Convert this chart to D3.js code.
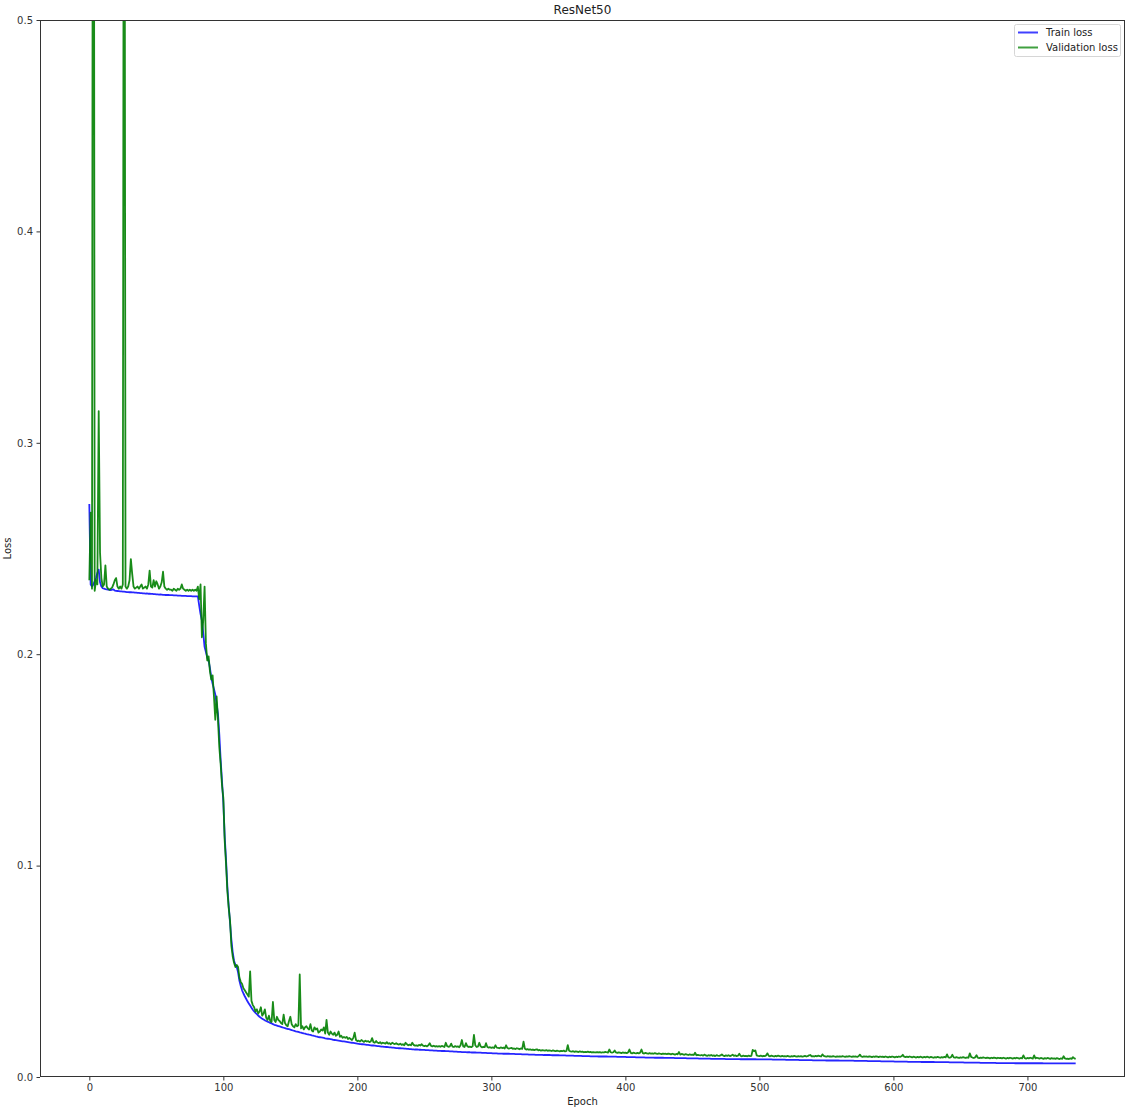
<!DOCTYPE html>
<html lang="en">
<head>
<meta charset="UTF-8">
<title>ResNet50</title>
<script src="https://d3js.org/d3.v7.min.js"></script>
<style>
    body { margin: 0; background: #fff; }
    text { font-family: "DejaVu Sans", sans-serif; }
</style>
</head>
<body>
<div id="chart"></div>
<script>
    // loss values per epoch, stored in units of 1e-4
    const trainLoss = [
        2710,2330,2320,2330,2345,2360,2385,2400,2340,2320,
        2312,2310,2308,2307,2305,2304,2303,2305,2306,2301,
        2300,2299,2298,2297,2297,2296,2296,2295,2294,2294,
        2293,2293,2292,2292,2291,2291,2290,2290,2289,2289,
        2288,2288,2287,2288,2286,2286,2285,2285,2284,2284,
        2283,2283,2282,2283,2282,2281,2281,2280,2280,2280,
        2279,2279,2279,2278,2278,2278,2277,2277,2277,2276,
        2276,2276,2276,2275,2275,2275,2275,2274,2274,2274,
        2274,2273,2230,2190,2160,2100,2035,2010,1985,1970,
        1935,1890,1860,1835,1810,1765,1718,1620,1500,1400,
        1300,1140,1030,900,810,730,650,590,550,530,
        520,495,455,430,410,395,382,370,358,348,
        338,328,318,310,303,297,291,285,280,276,
        272,268,265,262,259,256,253,250,247,245,
        243,241,239,237,235,233,231,229,227,226,
        224,222,220,218,216,215,213,211,210,208,
        206,205,203,202,200,199,197,196,194,192,
        191,189,188,187,186,185,183,182,181,180,
        179,178,176,175,174,173,172,171,170,169,
        168,167,166,165,164,163,162,161,160,159,
        158,157,156,155,155,154,153,152,152,151,
        150,149,149,148,147,146,146,145,144,144,
        143,142,142,141,140,140,139,139,138,137,
        137,136,136,135,135,134,134,133,133,132,
        132,131,131,130,130,130,129,129,128,128,
        128,127,127,127,126,126,126,125,125,125,
        124,124,124,123,123,123,122,122,122,121,
        121,121,120,120,120,119,119,119,118,118,
        118,118,117,117,117,116,116,116,116,115,
        115,115,115,114,114,114,114,113,113,113,
        113,112,112,112,112,111,111,111,111,110,
        110,110,110,110,109,109,109,109,108,108,
        108,108,108,107,107,107,107,107,106,106,
        106,106,106,105,105,105,105,105,105,104,
        104,104,104,104,104,103,103,103,103,103,
        103,102,102,102,102,102,101,101,101,101,
        101,101,100,100,100,100,100,100,99,99,
        99,99,99,99,98,98,98,98,98,98,
        97,97,97,97,97,97,97,96,96,96,
        96,96,96,96,95,95,95,95,95,95,
        95,94,94,94,94,94,94,94,93,93,
        93,93,93,93,93,92,92,92,92,92,
        92,92,91,91,91,91,91,91,91,90,
        90,90,90,90,90,90,90,89,89,89,
        89,89,89,89,89,89,88,88,88,88,
        88,88,88,88,88,87,87,87,87,87,
        87,87,87,87,86,86,86,86,86,86,
        86,86,86,86,86,85,85,85,85,85,
        85,85,85,85,85,85,84,84,84,84,
        84,84,84,84,84,84,84,84,83,83,
        83,83,83,83,83,83,83,83,83,83,
        82,82,82,82,82,82,82,82,82,82,
        81,81,81,81,81,81,81,81,81,81,
        80,80,80,80,80,80,80,80,80,80,
        79,79,79,79,79,79,79,79,79,79,
        78,78,78,78,78,78,78,78,78,78,
        77,77,77,77,77,77,77,77,77,77,
        77,76,76,76,76,76,76,76,76,76,
        76,75,75,75,75,75,75,75,75,75,
        75,74,74,74,74,74,74,74,74,74,
        74,73,73,73,73,73,73,73,73,73,
        73,72,72,72,72,72,72,72,72,72,
        72,71,71,71,71,71,71,71,71,71,
        71,70,70,70,70,70,70,70,70,70,
        70,70,69,69,69,69,69,69,69,69,
        69,69,69,68,68,68,68,68,68,68,
        68,68,68,68,68,67,67,67,67,67,
        67,67,67,67,67,67,67,66,66,66,
        66,66,66,66,66,66,66,66,66,66,
        66,65,65,65,65,65,65,65,65,65,
        65,65,65,65,65,65,65,65,65,65,
        65,65,64,64,64,64,64,64,64,64,
        64,64,64,64,64,64,64,64,64,64,
        64,64,64,64,64,64,64
    ];

    const valLoss = [
        2350,2670,2310,9000,2300,2350,2330,3150,2480,2360,
        2320,2330,2420,2320,2310,2305,2310,2315,2330,2350,
        2360,2320,2310,2320,2310,2330,8000,2320,2310,2320,
        2350,2450,2380,2320,2310,2315,2320,2310,2320,2330,
        2310,2315,2320,2310,2330,2395,2320,2315,2350,2320,
        2345,2330,2310,2320,2340,2390,2320,2310,2305,2310,
        2305,2305,2300,2310,2305,2300,2310,2305,2310,2330,
        2310,2305,2300,2305,2300,2305,2300,2305,2300,2305,
        2300,2320,2260,2330,2080,2160,2320,2050,1970,1990,
        1920,1880,1900,1800,1690,1800,1690,1560,1480,1380,
        1320,1120,1010,880,800,740,620,570,540,520,
        530,520,470,450,440,420,410,400,390,380,
        500,360,340,330,310,320,300,310,330,290,
        300,320,280,270,290,265,260,355,270,260,
        285,270,265,255,250,295,255,245,240,265,
        285,250,240,235,250,240,245,485,230,240,
        225,235,240,230,225,250,220,215,235,225,
        230,210,215,225,220,235,205,270,210,200,
        215,205,200,210,195,200,215,190,195,185,
        190,185,190,180,185,180,175,185,210,175,
        170,172,168,175,170,166,172,168,170,165,
        168,184,165,162,170,163,160,165,158,162,
        160,158,165,157,160,155,162,158,156,160,
        155,153,158,152,155,150,162,155,150,153,
        150,162,152,148,150,147,152,149,155,148,
        146,148,145,150,160,147,145,148,144,146,
        144,146,143,147,145,142,162,146,143,145,
        158,144,142,146,143,145,141,150,175,145,
        142,160,146,142,144,141,145,199,150,142,
        144,162,145,140,143,141,160,142,139,141,
        138,140,137,150,139,138,136,140,137,139,
        135,150,137,134,136,138,133,135,132,136,
        134,131,135,133,167,134,130,132,129,131,
        128,130,127,129,131,126,128,125,127,126,
        125,127,124,126,125,123,126,124,122,125,
        123,121,124,122,125,121,123,151,124,121,
        120,122,119,121,120,118,121,119,120,117,
        119,118,120,117,119,116,118,117,116,118,
        116,118,115,117,116,119,117,115,130,117,
        115,117,125,116,114,116,115,113,116,114,
        115,113,116,130,114,112,115,113,112,114,
        112,115,130,113,111,114,112,110,113,111,
        112,110,113,111,109,112,110,108,111,109,
        110,108,111,109,107,110,108,106,109,107,
        118,106,109,107,105,108,106,104,107,105,
        106,104,115,103,105,103,102,104,101,106,
        102,100,103,101,104,100,102,99,103,101,
        100,102,107,101,99,102,100,103,99,101,
        106,100,102,99,101,110,100,98,101,99,
        100,98,101,99,100,128,122,126,102,100,
        99,101,98,100,99,102,112,100,98,101,
        99,97,100,98,101,99,97,100,98,99,
        97,100,98,96,99,97,100,98,96,99,
        97,99,96,98,100,97,99,102,104,98,
        99,97,100,98,101,99,97,107,100,98,
        96,99,97,98,96,99,97,95,98,96,
        98,96,99,97,95,98,96,99,97,95,
        98,96,97,95,98,106,97,95,98,96,
        97,95,98,96,94,97,95,98,96,94,
        97,95,96,94,97,95,93,96,94,97,
        95,93,96,94,97,95,98,105,96,94,
        96,94,97,95,93,96,94,92,95,93,
        96,94,92,95,93,96,94,92,95,93,
        91,94,92,95,93,91,94,92,95,93,
        107,93,91,94,105,93,91,94,92,90,
        93,91,94,92,90,93,91,112,95,92,
        90,93,103,91,89,92,90,93,91,89,
        92,90,88,91,89,92,90,88,91,89,
        90,88,91,89,87,90,88,91,89,87,
        90,88,91,89,87,90,88,102,89,87,
        90,88,91,89,87,102,88,91,89,87,
        90,88,86,89,87,90,88,86,89,87,
        88,86,89,87,85,88,86,98,88,86,
        87,85,88,86,94,88,86
    ];

    const xTicks = [0, 100, 200, 300, 400, 500, 600, 700];
    const yTicks = [0, 0.1, 0.2, 0.3, 0.4, 0.5];
    const seriesNames = ["Train loss", "Validation loss"];

    var width = 1126, height = 1110;
    var plot = {left: 40, right: 1125, top: 20, bottom: 1077};
    var axisColor = "#333";

    var svg = d3.select("#chart").append("svg")
        .attr("width", width)
        .attr("height", height);

    var train = trainLoss.map(function (v, i) { return {epoch: i, loss: v / 10000}; });
    var val = valLoss.map(function (v, i) { return {epoch: i, loss: v / 10000}; });

    // matplotlib style 5% margin on x
    var nMax = Math.max(train.length, val.length) - 1;
    var pad = nMax * 0.05;
    var x = d3.scaleLinear().domain([-pad, nMax + pad]).range([plot.left, plot.right]);
    var y = d3.scaleLinear().domain([0, 0.5]).range([plot.bottom, plot.top]);

    svg.append("clipPath").attr("id", "clip")
        .append("rect")
        .attr("x", plot.left).attr("y", plot.top)
        .attr("width", plot.right - plot.left)
        .attr("height", plot.bottom - plot.top);

    var line = d3.line()
        .x(function (d) { return x(d.epoch); })
        .y(function (d) { return y(d.loss); });

    var lines = svg.append("g").attr("clip-path", "url(#clip)");
    lines.append("path").datum(train)
        .attr("d", line)
        .attr("fill", "none")
        .attr("stroke", "#0000ff")
        .attr("stroke-opacity", 0.85)
        .attr("stroke-width", 1.8)
        .attr("stroke-linejoin", "round");
    lines.append("path").datum(val)
        .attr("d", line)
        .attr("fill", "none")
        .attr("stroke", "#008000")
        .attr("stroke-opacity", 0.9)
        .attr("stroke-width", 1.8)
        .attr("stroke-linejoin", "round");

    // axes
    var xAxis = svg.append("g")
        .attr("transform", "translate(0," + plot.bottom + ")")
        .call(d3.axisBottom(x).tickValues(xTicks).tickSize(3.5).tickPadding(3.5).tickFormat(d3.format("d")));
    var yAxis = svg.append("g")
        .attr("transform", "translate(" + plot.left + ",0)")
        .call(d3.axisLeft(y).tickValues(yTicks).tickSize(3.5).tickPadding(3.5).tickFormat(d3.format(".1f")));
    [xAxis, yAxis].forEach(function (g) {
        g.select(".domain").remove();
        g.selectAll("line").attr("stroke", axisColor);
        g.selectAll("text")
            .attr("fill", axisColor)
            .style("font-size", "10px")
            .style("font-family", "'DejaVu Sans', sans-serif");
    });

    // spines
    svg.append("rect")
        .attr("x", plot.left + 0.5).attr("y", plot.top + 0.5)
        .attr("width", plot.right - plot.left - 1)
        .attr("height", plot.bottom - plot.top - 1)
        .attr("fill", "none")
        .attr("stroke", axisColor)
        .attr("stroke-width", 1);

    // labels
    svg.append("text")
        .attr("x", (plot.left + plot.right) / 2)
        .attr("y", 14)
        .attr("text-anchor", "middle")
        .style("font-size", "12px")
        .attr("fill", "#222")
        .text("ResNet50");
    svg.append("text")
        .attr("x", (plot.left + plot.right) / 2)
        .attr("y", 1105)
        .attr("text-anchor", "middle")
        .style("font-size", "10px")
        .attr("fill", "#222")
        .text("Epoch");
    svg.append("text")
        .attr("transform", "translate(11," + (plot.top + plot.bottom) / 2 + ") rotate(-90)")
        .attr("text-anchor", "middle")
        .style("font-size", "10px")
        .attr("fill", "#222")
        .text("Loss");

    // legend
    var legend = svg.append("g").attr("transform", "translate(1014,24)");
    legend.append("rect")
        .attr("x", 0.5).attr("y", 0.5)
        .attr("width", 106).attr("height", 32)
        .attr("rx", 2)
        .attr("fill", "#fff")
        .attr("fill-opacity", 0.8)
        .attr("stroke", "#d6d6d6");
    var colors = ["#0000ff", "#008000"];
    seriesNames.forEach(function (name, i) {
        var ly = 8.5 + i * 15;
        legend.append("line")
            .attr("x1", 4).attr("x2", 24)
            .attr("y1", ly).attr("y2", ly)
            .attr("stroke", colors[i])
            .attr("stroke-opacity", 0.75)
            .attr("stroke-width", 2);
        legend.append("text")
            .attr("x", 32).attr("y", ly + 3.5)
            .style("font-size", "10px")
            .attr("fill", "#222")
            .text(name);
    });
</script>
</body>
</html>
